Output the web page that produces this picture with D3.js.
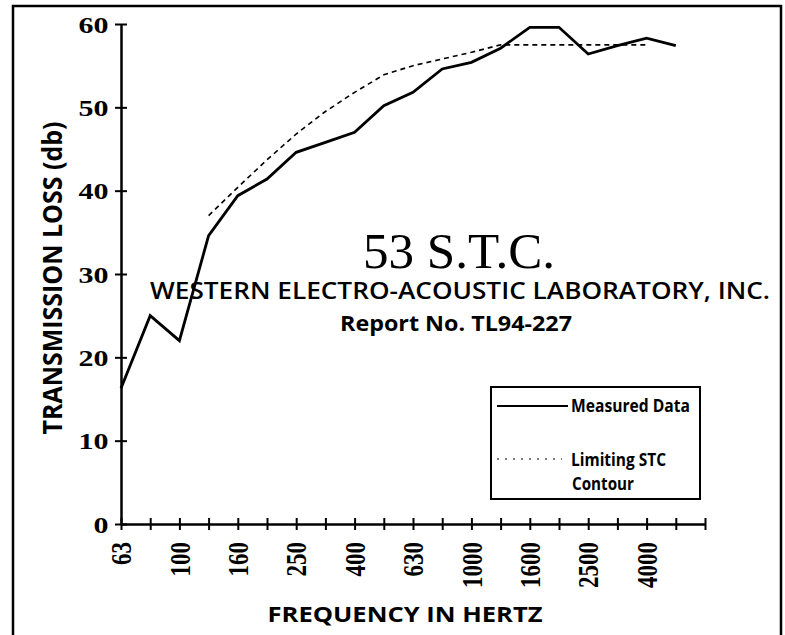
<!DOCTYPE html>
<html>
<head>
<meta charset="utf-8">
<script src="https://cdn.jsdelivr.net/npm/d3@7"></script>
<style>
  body { margin: 0; background: #fff; }
  svg { display: block; }
</style>
</head>
<body>
<svg id="chart" width="785" height="635"></svg>
<script>
// one-third octave bands (last one only closes the axis)
const bands = ["63", "80", "100", "125", "160", "200", "250", "315", "400", "500", "630",
  "800", "1000", "1250", "1600", "2000", "2500", "3150", "4000", "5000", "6300"];
const bandLabels = ["63", "100", "160", "250", "400", "630", "1000", "1600", "2500", "4000"];

// measured transmission loss, 63 .. 5000 Hz
const measured = [16.3, 25.0, 22.0, 34.6, 39.4, 41.4, 44.6, 45.8, 47.0, 50.2, 51.8,
  54.6, 55.4, 57.1, 59.6, 59.6, 56.4, 57.4, 58.3, 57.4];

// limiting STC contour, 125 .. 4000 Hz
const contourBands = ["125", "160", "200", "250", "315", "400", "500", "630", "800", "1000",
  "1250", "1600", "2000", "2500", "3150", "4000"];
const contour = [37.0, 40.4, 43.7, 46.8, 49.5, 51.8, 53.9, 55.0, 55.8, 56.6,
  57.5, 57.5, 57.5, 57.5, 57.5, 57.5];

const yTicks = [0, 10, 20, 30, 40, 50, 60];

const svg = d3.select("#chart");

// outer frame
svg.append("rect")
  .attr("x", 13).attr("y", 6)
  .attr("width", 768).attr("height", 650)
  .attr("fill", "none").attr("stroke", "#000").attr("stroke-width", 2.5);

const x = d3.scalePoint().domain(bands).range([121, 705]);
const y = d3.scaleLinear().domain([0, 60]).range([524, 24]);

const serifNum = "'Liberation Serif', 'Times New Roman', serif";
const sans = "'Open Sans', 'Noto Sans', sans-serif";

// y axis
const yAxis = svg.append("g")
  .attr("transform", "translate(121,0)")
  .call(d3.axisLeft(y).tickValues(yTicks).tickSize(6).tickSizeOuter(0));
yAxis.select(".domain").attr("stroke-width", 2.5);
yAxis.selectAll(".tick line").attr("x1", -6).attr("x2", 6).attr("stroke-width", 2);
yAxis.selectAll(".tick text")
  .attr("x", -10).attr("dy", "0.34em")
  .attr("transform", "scale(1.25,1)")
  .style("font-family", serifNum)
  .style("font-weight", "bold")
  .style("font-size", "24px")
  .attr("fill", "#000");

// x axis
const xAxis = svg.append("g")
  .attr("transform", "translate(0,524)")
  .call(d3.axisBottom(x).tickSize(6).tickSizeOuter(0)
    .tickFormat(d => bandLabels.includes(d) ? d : ""));
xAxis.select(".domain").attr("stroke-width", 2.5);
xAxis.selectAll(".tick line").attr("y1", -6).attr("y2", 6).attr("stroke-width", 2);
xAxis.selectAll(".tick text")
  .attr("x", -18).attr("y", 0).attr("dy", "0.34em")
  .attr("transform", "scale(1.25,1) rotate(-90)")
  .style("text-anchor", "end")
  .style("font-family", serifNum)
  .style("font-weight", "bold")
  .style("font-size", "23px")
  .attr("fill", "#000");

// lines
const line = d3.line().x(d => x(d[0])).y(d => y(d[1]));

svg.append("path")
  .datum(contourBands.map((b, i) => [b, contour[i]]))
  .attr("d", line)
  .attr("fill", "none").attr("stroke", "#000")
  .attr("stroke-width", 1.6).attr("stroke-dasharray", "5,4");

svg.append("path")
  .datum(measured.map((v, i) => [bands[i], v]))
  .attr("d", line)
  .attr("fill", "none").attr("stroke", "#000")
  .attr("stroke-width", 2.8).attr("stroke-linejoin", "miter");

// titles
svg.append("text")
  .attr("x", 363).attr("y", 268)
  .attr("textLength", 192).attr("lengthAdjust", "spacingAndGlyphs")
  .style("font-family", serifNum).style("font-size", "50px")
  .text("53 S.T.C.");

svg.append("text")
  .attr("x", 150).attr("y", 299)
  .attr("textLength", 620).attr("lengthAdjust", "spacingAndGlyphs")
  .style("font-family", sans).style("font-weight", 600).style("font-size", "23px")
  .text("WESTERN ELECTRO-ACOUSTIC LABORATORY, INC.");

svg.append("text")
  .attr("x", 340).attr("y", 331)
  .attr("textLength", 232).attr("lengthAdjust", "spacingAndGlyphs")
  .style("font-family", sans).style("font-weight", 700).style("font-size", "22px")
  .text("Report No. TL94-227");

svg.append("text")
  .attr("transform", "translate(62,278) rotate(-90)")
  .attr("text-anchor", "middle")
  .attr("textLength", 313).attr("lengthAdjust", "spacingAndGlyphs")
  .style("font-family", sans).style("font-weight", 700).style("font-size", "26px")
  .text("TRANSMISSION LOSS (db)");

svg.append("text")
  .attr("x", 405).attr("y", 622)
  .attr("text-anchor", "middle")
  .attr("textLength", 275).attr("lengthAdjust", "spacingAndGlyphs")
  .style("font-family", sans).style("font-weight", 700).style("font-size", "22px")
  .text("FREQUENCY IN HERTZ");

// legend
const legend = svg.append("g");
legend.append("rect")
  .attr("x", 491).attr("y", 387).attr("width", 209).attr("height", 112)
  .attr("fill", "none").attr("stroke", "#000").attr("stroke-width", 2);
legend.append("line")
  .attr("x1", 497).attr("x2", 568).attr("y1", 406).attr("y2", 406)
  .attr("stroke", "#000").attr("stroke-width", 2);
legend.append("line")
  .attr("x1", 497).attr("x2", 562).attr("y1", 459).attr("y2", 459)
  .attr("stroke", "#000").attr("stroke-width", 1.2).attr("stroke-dasharray", "2,6");

const legendText = [
  { t: "Measured Data", x: 571, y: 412, w: 119 },
  { t: "Limiting STC", x: 571, y: 466, w: 95 },
  { t: "Contour", x: 572, y: 490, w: 62 }
];
legend.selectAll("text.lab")
  .data(legendText)
  .enter()
  .append("text")
  .attr("class", "lab")
  .attr("x", d => d.x).attr("y", d => d.y)
  .attr("textLength", d => d.w).attr("lengthAdjust", "spacingAndGlyphs")
  .style("font-family", sans).style("font-weight", 700).style("font-size", "18px")
  .text(d => d.t);
</script>
</body>
</html>
